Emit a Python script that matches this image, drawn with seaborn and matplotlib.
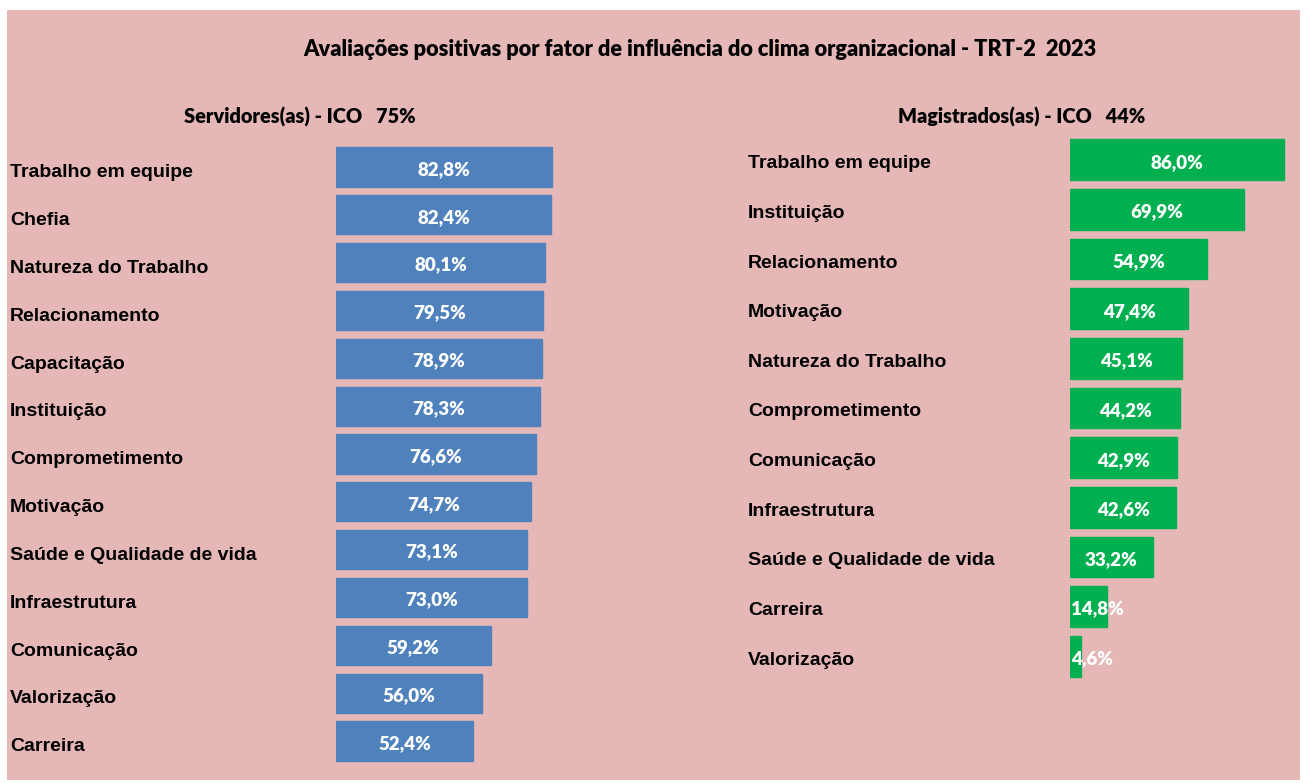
import matplotlib
matplotlib.use("Agg")
import matplotlib.pyplot as plt
import matplotlib.patches as mpatches
import seaborn as sns
import pandas as pd

# Dados - Servidores(as)
cat_servidores = ["Trabalho em equipe", "Chefia", "Natureza do Trabalho", "Relacionamento",
                  "Capacitação", "Instituição", "Comprometimento", "Motivação",
                  "Saúde e Qualidade de vida", "Infraestrutura", "Comunicação",
                  "Valorização", "Carreira"]
val_servidores = [82.8, 82.4, 80.1, 79.5, 78.9, 78.3, 76.6, 74.7, 73.1, 73.0, 59.2, 56.0, 52.4]

# Dados - Magistrados(as)
cat_magistrados = ["Trabalho em equipe", "Instituição", "Relacionamento", "Motivação",
                   "Natureza do Trabalho", "Comprometimento", "Comunicação", "Infraestrutura",
                   "Saúde e Qualidade de vida", "Carreira", "Valorização"]
val_magistrados = [86.0, 69.9, 54.9, 47.4, 45.1, 44.2, 42.9, 42.6, 33.2, 14.8, 4.6]

titulo = "Avaliações positivas por fator de influência do clima organizacional - TRT-2  2023"
sub_servidores = "Servidores(as) - ICO   75%"
sub_magistrados = "Magistrados(as) - ICO   44%"

ROSA = "#E5B8B7"
AZUL = "#4F81BD"
VERDE = "#00B050"
W, H = 1304, 783
CALIBRI = ["Lato", "DejaVu Sans"]

sns.set_theme(style="white")
plt.rcParams["font.family"] = ["Liberation Sans", "DejaVu Sans"]
plt.rcParams["text.color"] = "black"

fig = plt.figure(figsize=(W / 100, H / 100), dpi=100)
fig.patch.set_facecolor("white")
fig.add_artist(mpatches.Rectangle((7 / W, 3 / H), 1293 / W, 770 / H,
                                  transform=fig.transFigure, facecolor=ROSA,
                                  edgecolor="none", zorder=0))


def painel(rect, cats, vals, cor, xmax, pad_px, desloc=0.0, pequenos=False):
    ax = fig.add_axes(rect)
    df = pd.DataFrame({"cat": cats, "val": vals})
    sns.barplot(data=df, x="val", y="cat", color=cor, saturation=1, width=0.82,
                orient="h", ax=ax, edgecolor=cor)
    ax.set_xlim(0, xmax)
    ax.set_ylim(len(cats) - 0.5, -0.5)
    ax.set_facecolor("none")
    for s in ax.spines.values():
        s.set_visible(False)
    ax.set_xlabel("")
    ax.set_ylabel("")
    ax.set_xticks([])
    ax.set_yticks([])
    # rótulos das categorias alinhados à esquerda
    for i, c in enumerate(cats):
        ax.annotate(c, xy=(0, i + desloc), xycoords=("axes fraction", "data"),
                    xytext=(-pad_px * 72 / 100, 0), textcoords="offset points",
                    ha="left", va="center", fontsize=14, fontweight="bold", color="black")
    for i, v in enumerate(vals):
        txt = f"{v:.1f}".replace(".", ",") + "%"
        if pequenos and v < 20:
            ax.text(0.4, i + 0.05, txt, ha="left", va="center", color="white",
                    fontsize=13.5, fontweight="heavy", family=CALIBRI)
        else:
            ax.text(v / 2, i + 0.05, txt, ha="center", va="center", color="white",
                    fontsize=13.5, fontweight="heavy", family=CALIBRI)
    return ax


# painel esquerdo: centros das barras de 167 a 741 px
painel([336 / W, 1 - 765 / H, 261 / W, 622 / H], cat_servidores, val_servidores,
       AZUL, 100, 326, desloc=0.12)
# painel direito: centros de 160 a 656 px
painel([1070 / W, 1 - 681 / H, 224 / W, 546 / H], cat_magistrados, val_magistrados,
       VERDE, 90, 322, desloc=0.08, pequenos=True)

fig.text(700 / W, 1 - 50 / H, titulo, ha="center", va="center", fontsize=15.7,
         fontweight="heavy", family=CALIBRI, color="black")
fig.text(300 / W, 1 - 117 / H, sub_servidores, ha="center", va="center", fontsize=14.3,
         fontweight="heavy", family=CALIBRI, color="black")
fig.text(1022 / W, 1 - 117 / H, sub_magistrados, ha="center", va="center", fontsize=14.3,
         fontweight="heavy", family=CALIBRI, color="black")

fig.savefig("out.png", dpi=100)
